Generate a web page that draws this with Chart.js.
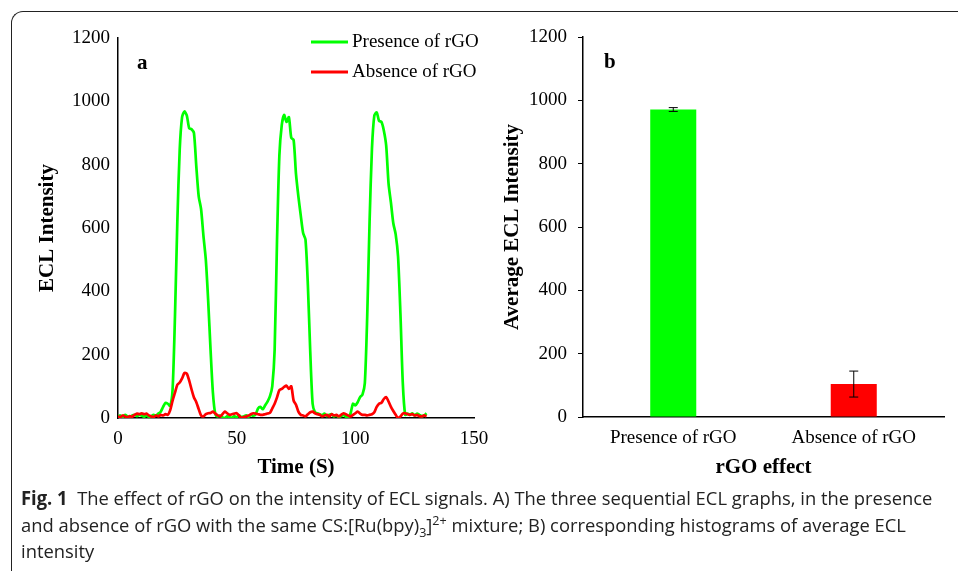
<!DOCTYPE html>
<html lang="en">
<head>
<meta charset="UTF-8">
<title>Fig. 1 rGO ECL</title>
<script src="https://cdn.jsdelivr.net/npm/chart.js"></script>
<style>
    body { margin: 0; background: #ffffff; width: 958px; height: 571px; overflow: hidden; position: relative; }
    .frame { position: absolute; left: 11px; top: 11px; width: 1000px; height: 600px; border-top: 1px solid #222; border-left: 1px solid #222; border-top-left-radius: 12px; }
    #chartA { position: absolute; left: 0; top: 0; }
    #chartB { position: absolute; left: 480px; top: 0; }
    .caption { position: absolute; left: 21px; top: 485px; font-family: "Open Sans", sans-serif; font-size: 19px; line-height: 26.5px; color: #222; white-space: nowrap; transform: scaleX(0.967); transform-origin: left top; }
    .caption b { font-weight: 700; }
    .caption sub, .caption sup { font-size: 13px; line-height: 0; }
</style>
</head>
<body>
<div class="frame"></div>
<canvas id="chartA" width="500" height="490"></canvas>
<canvas id="chartB" width="478" height="490"></canvas>
<div class="caption"><b>Fig. 1</b>&nbsp; The effect of rGO on the intensity of ECL signals. A) The three sequential ECL graphs, in the presence<br>and absence of rGO with the same CS:[Ru(bpy)<sub>3</sub>]<sup>2+</sup> mixture; B) corresponding histograms of average ECL<br>intensity</div>
<script>
    // time in seconds (1 s sampling)
    const timeS = [0,1,2,3,4,5,6,7,8,9,10,11,12,13,14,15,16,17,18,19,
        20,21,22,23,24,25,26,27,28,29,30,31,32,33,34,35,36,37,38,39,
        40,41,42,43,44,45,46,47,48,49,50,51,52,53,54,55,56,57,58,59,
        60,61,62,63,64,65,66,67,68,69,70,71,72,73,74,75,76,77,78,79,
        80,81,82,83,84,85,86,87,88,89,90,91,92,93,94,95,96,97,98,99,
        100,101,102,103,104,105,106,107,108,109,110,111,112,113,114,115,116,117,118,119,
        120,121,122,123,124,125,126,127,128,129,130];
    const presenceRGO = [5,8,3,10,5,2,8,10,6,10,8,4,9,3,6,10,8,14,20,35,
        48,45,38,90,320,620,847,950,968,955,915,912,900,794,700,660,575,500,370,215,
        79,12,5,8,2,0,5,3,0,6,2,8,3,5,8,4,10,7,12,30,
        35,28,40,52,68,100,215,560,830,925,957,935,950,885,878,770,700,640,584,563,
        420,210,45,18,15,12,8,14,6,10,12,5,8,3,6,10,4,2,15,45,
        40,50,66,74,110,320,620,850,955,965,938,935,908,860,740,680,615,580,510,330,
        110,10,14,10,15,8,14,10,6,8,15];
    const absenceRGO = [5,3,8,5,2,6,4,10,14,12,15,12,14,8,5,3,8,5,10,8,
        12,10,25,55,80,105,112,125,142,140,118,90,65,50,28,8,5,12,15,16,
        20,14,8,5,12,20,15,10,12,14,15,8,0,3,5,8,12,15,14,12,
        10,10,12,14,16,30,45,65,88,92,98,102,92,100,55,42,20,10,8,5,
        12,18,20,15,12,10,5,8,10,5,12,8,10,5,10,15,12,8,5,10,
        15,20,14,10,10,8,10,12,18,35,45,48,60,66,52,35,22,10,0,5,
        14,15,12,10,12,8,10,6,5,8,5];

    const effectLabels = ['Presence of rGO', 'Absence of rGO'];
    const avgEcl = [971, 104];
    const avgErr = [6, 41];

    const serif = '"Liberation Serif", "Times New Roman", serif';
    const tickFont = { family: serif, size: 19 };
    const titleFont = { family: serif, size: 21, weight: 'bold' };

    const panelLetter = {
        id: 'panelLetter',
        afterDraw(chart, args, opts) {
            const ctx = chart.ctx;
            ctx.save();
            ctx.font = 'bold 21px ' + serif;
            ctx.fillStyle = '#000';
            ctx.textBaseline = 'middle';
            ctx.fillText(opts.text, chart.chartArea.left + opts.dx, chart.chartArea.top + opts.dy);
            ctx.restore();
        }
    };

    const insideLegend = {
        id: 'insideLegend',
        afterDraw(chart, args, opts) {
            if (!opts.show) return;
            const ctx = chart.ctx;
            const x0 = chart.chartArea.left + 193;
            ctx.save();
            ctx.font = '19px ' + serif;
            ctx.textBaseline = 'middle';
            chart.data.datasets.forEach((ds, i) => {
                const y = chart.chartArea.top + 4 + i * 30;
                ctx.strokeStyle = ds.borderColor;
                ctx.lineWidth = 3;
                ctx.beginPath();
                ctx.moveTo(x0, y);
                ctx.lineTo(x0 + 37, y);
                ctx.stroke();
                ctx.fillStyle = '#000';
                ctx.fillText(ds.label, x0 + 41, y);
            });
            ctx.restore();
        }
    };

    const errorBars = {
        id: 'errorBars',
        afterDatasetsDraw(chart) {
            const ctx = chart.ctx;
            const y = chart.scales.y;
            chart.getDatasetMeta(0).data.forEach((bar, i) => {
                const top = y.getPixelForValue(avgEcl[i] + avgErr[i]);
                const bot = y.getPixelForValue(avgEcl[i] - avgErr[i]);
                ctx.save();
                ctx.strokeStyle = '#000';
                ctx.lineWidth = 1;
                ctx.beginPath();
                ctx.moveTo(bar.x, top); ctx.lineTo(bar.x, bot);
                ctx.moveTo(bar.x - 4.5, top); ctx.lineTo(bar.x + 4.5, top);
                ctx.moveTo(bar.x - 4.5, bot); ctx.lineTo(bar.x + 4.5, bot);
                ctx.stroke();
                ctx.restore();
            });
        }
    };

    new Chart(document.getElementById('chartA'), {
        type: 'line',
        data: {
            datasets: [
                {
                    label: 'Presence of rGO',
                    data: timeS.map((t, i) => ({ x: t, y: presenceRGO[i] })),
                    borderColor: '#00ff00',
                    borderWidth: 2.7,
                    pointRadius: 0,
                    tension: 0.25,
                    order: 1
                },
                {
                    label: 'Absence of rGO',
                    data: timeS.map((t, i) => ({ x: t, y: absenceRGO[i] })),
                    borderColor: '#ff0000',
                    borderWidth: 2.7,
                    pointRadius: 0,
                    tension: 0.25,
                    order: 0
                }
            ]
        },
        options: {
            responsive: false,
            animation: false,
            layout: { padding: { left: 0, top: 38, right: 26, bottom: 0 } },
            plugins: {
                legend: { display: false },
                tooltip: { enabled: false },
                panelLetter: { text: 'a', dx: 19, dy: 26 },
                insideLegend: { show: true }
            },
            scales: {
                x: {
                    type: 'linear', min: 0, max: 150,
                    ticks: { stepSize: 50, padding: 10, color: '#000', font: tickFont },
                    grid: { display: false, drawTicks: false },
                    border: { color: '#000', width: 1.5 },
                    title: { display: true, text: 'Time (S)', color: '#000', font: titleFont, padding: { top: 0, bottom: 10 } },
                    afterFit(s) { s.height = 72; }
                },
                y: {
                    min: 0, max: 1200,
                    ticks: { stepSize: 200, padding: 8, color: '#000', font: tickFont, format: { useGrouping: false } },
                    grid: { display: false, drawTicks: false },
                    border: { color: '#000', width: 1.5 },
                    title: { display: true, text: 'ECL Intensity', color: '#000', font: titleFont, padding: { top: 35, bottom: 0 } },
                    afterFit(s) { s.width = 118; }
                }
            }
        },
        plugins: [panelLetter, insideLegend]
    });

    new Chart(document.getElementById('chartB'), {
        type: 'bar',
        data: {
            labels: effectLabels,
            datasets: [{
                data: avgEcl,
                backgroundColor: ['#00ff00', '#ff0000'],
                barPercentage: 1,
                categoryPercentage: 0.255
            }]
        },
        options: {
            responsive: false,
            animation: false,
            layout: { padding: { left: 0, top: 37, right: 14, bottom: 0 } },
            plugins: {
                legend: { display: false },
                tooltip: { enabled: false },
                panelLetter: { text: 'b', dx: 21, dy: 26 }
            },
            scales: {
                x: {
                    ticks: { padding: 10, color: '#000', font: tickFont },
                    grid: { display: false, drawTicks: false },
                    border: { color: '#000', width: 1.5 },
                    title: { display: true, text: 'rGO effect', color: '#000', font: titleFont, padding: { top: 0, bottom: 10 } },
                    afterFit(s) { s.height = 73; }
                },
                y: {
                    min: 0, max: 1200,
                    ticks: { stepSize: 200, padding: 11, color: '#000', font: tickFont, format: { useGrouping: false } },
                    grid: { display: true, drawOnChartArea: false, drawTicks: true, tickLength: 5, color: '#000' },
                    border: { color: '#000', width: 1.5 },
                    title: { display: true, text: 'Average ECL Intensity', color: '#000', font: titleFont, padding: { top: 20, bottom: 0 } },
                    afterFit(s) { s.width = 103; }
                }
            }
        },
        plugins: [panelLetter, errorBars]
    });
</script>
</body>
</html>
